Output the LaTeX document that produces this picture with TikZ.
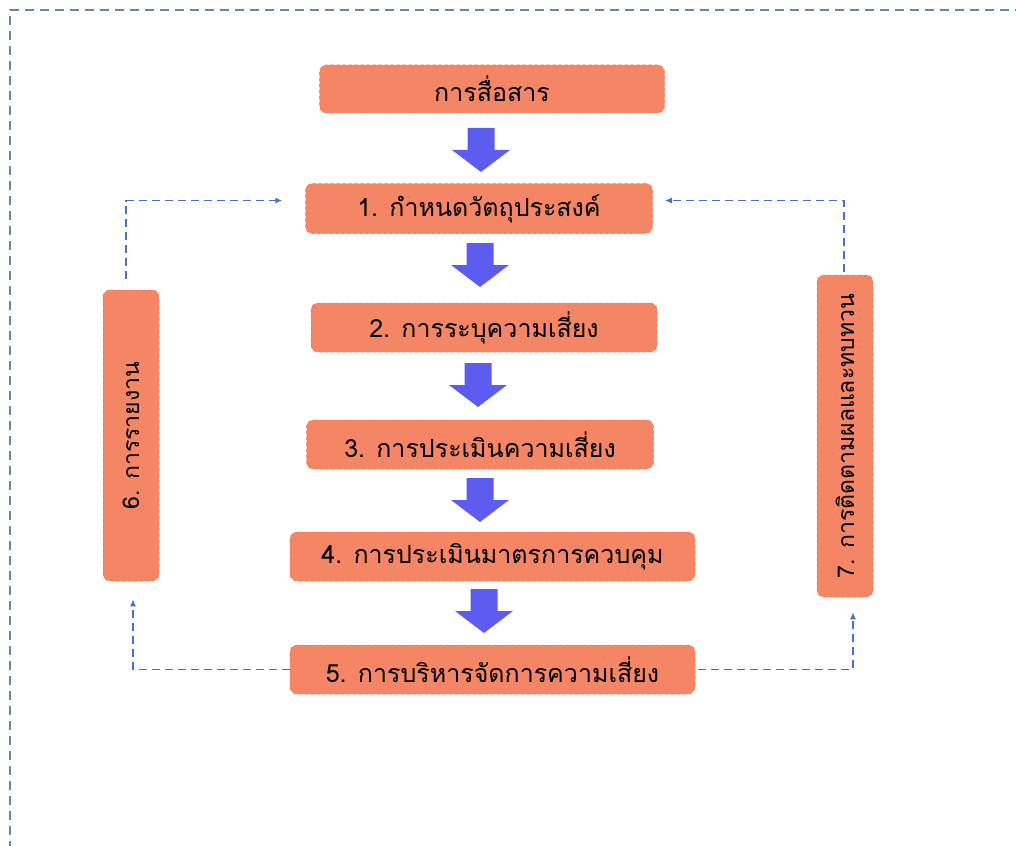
\documentclass[tikz,border=0pt]{standalone}
\usepackage{fontspec}
\newfontfamily\thaifont[Script=Thai]{Loma}
\usetikzlibrary{arrows.meta}
\definecolor{stagefill}{RGB}{244,134,101}
\definecolor{stageedge}{RGB}{236,112,80}
\definecolor{flowblue}{RGB}{92,92,240}
\definecolor{loopblue}{RGB}{68,114,196}
\definecolor{framegray}{RGB}{112,132,162}

\begin{document}
\begin{tikzpicture}[x=1pt,y=-1pt, stage/.style={fill=stagefill,draw=stageedge,dashed,line width=0.5pt,rounded corners=7pt,inner sep=0pt,minimum height=49pt,font=\thaifont\fontsize{25}{28}\selectfont}, side/.style={stage,rotate=90,minimum height=56pt,font=\thaifont\fontsize{23}{26}\selectfont}, feedback/.style={draw=loopblue,line width=1.8pt,dash pattern=on 8pt off 5pt,-{Latex[length=7pt,width=6pt]}}, flow/.style={fill=flowblue}]
\useasboundingbox (0,0) rectangle (1016,845);
\draw[framegray,line width=2pt,dash pattern=on 9pt off 6pt] (10,850) -- (10,10) -- (1020,10);
\node[stage,minimum width=345pt,minimum height=48pt] (comm) at (492,89) {การสื่อสาร};
\node[stage,minimum width=347pt,minimum height=50pt] (obj) at (479,208.5) {1. กำหนดวัตถุประสงค์};
\node[stage,minimum width=346pt] (ident) at (484,327.5) {2. การระบุความเสี่ยง};
\node[stage,minimum width=347pt] (assess) at (480,444.5) {3. การประเมินความเสี่ยง};
\node[stage,minimum width=405pt] (control) at (492.5,556.5) {4. การประเมินมาตรการควบคุม};
\node[stage,minimum width=405pt] (manage) at (492.5,669.5) {5. การบริหารจัดการความเสี่ยง};
\node[side,minimum width=291pt] (report) at (131,435.5) {6. การรายงาน};
\node[side,minimum width=322pt] (monitor) at (845,436) {7. การติดตามผลและทบทวน};
% block arrows down the main column
\foreach \ax/\ay in {481/150, 480/265, 478/385, 480/500, 484/611}
  \fill[flow] (\ax,\ay) ++(-13.5,-22) -- ++(27,0) -- ++(0,22) -- ++(15.5,0) -- ++(-29,22) -- ++(-29,-22) -- ++(15.5,0) -- cycle;
% feedback loops
\draw[feedback] ([xshift=-5pt,yshift=11pt]report.east) |- ([xshift=-23pt,yshift=8pt]obj.west);
\draw[feedback] ([xshift=-1pt,yshift=3pt]monitor.east) |- ([xshift=12pt,yshift=8pt]obj.east);
\draw[feedback] (manage.west) -| ([xshift=2pt,yshift=-18pt]report.west);
\draw[feedback] ([xshift=3pt]manage.east) -| ([xshift=8pt,yshift=-15pt]monitor.west);
\end{tikzpicture}
\end{document}
